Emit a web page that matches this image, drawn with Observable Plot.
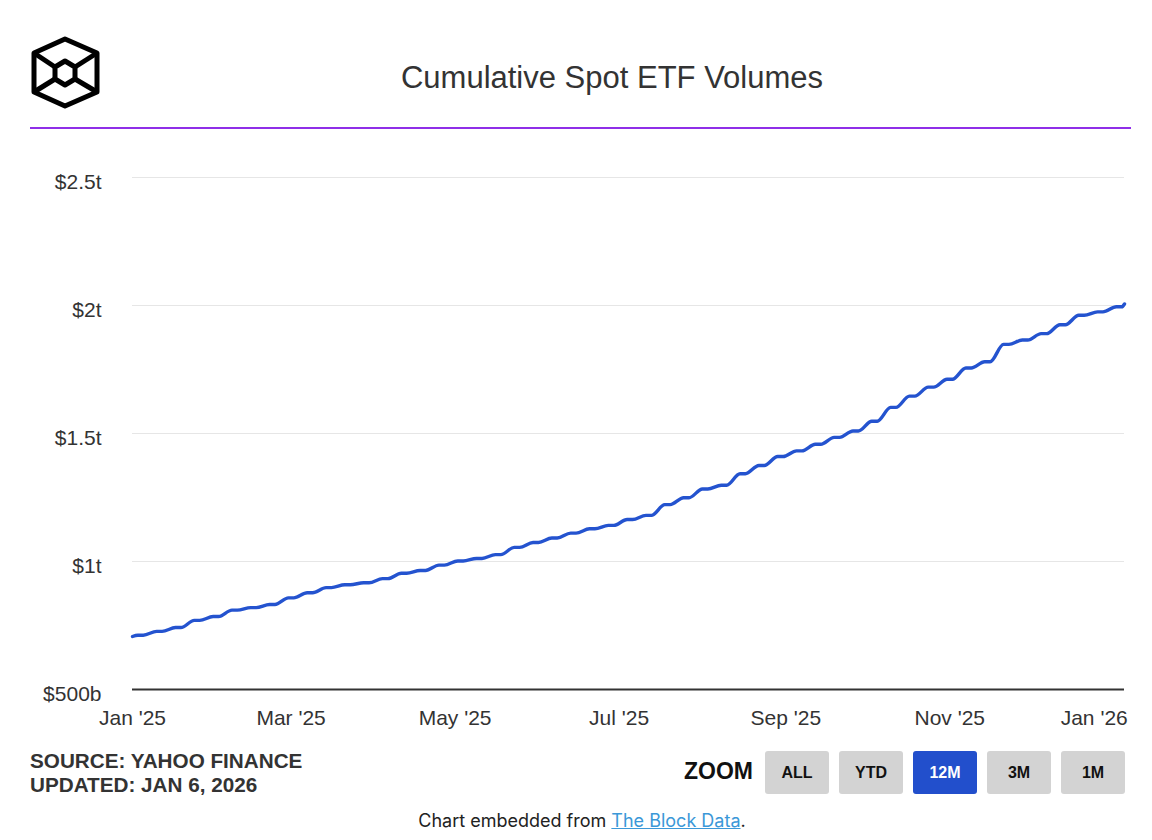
<!DOCTYPE html>
<html>
<head>
<meta charset="utf-8">
<script src="https://cdn.jsdelivr.net/npm/d3@7"></script>
<script src="https://cdn.jsdelivr.net/npm/@observablehq/plot@0.6"></script>
<style>
  html, body { margin: 0; padding: 0; background: #fff; }
  body { width: 1152px; height: 840px; position: relative; overflow: hidden; font-family: "Liberation Sans", Arial, Helvetica, sans-serif; }
  #logo { position: absolute; left: 28px; top: 34px; }
  #title { position: absolute; left: 0; width: 1224px; top: 60px; text-align: center; font-size: 31px; color: #333; }
  #rule { position: absolute; left: 30px; width: 1101px; top: 127px; height: 2px; background: #8f2fe8; }
  #chart { position: absolute; left: 0; top: 150px; }
  #source { position: absolute; left: 30px; top: 749px; font-weight: bold; font-size: 20.7px; line-height: 24px; color: #333; }
  #zoomlabel { position: absolute; left: 684px; top: 758px; font-weight: bold; font-size: 23px; color: #111; }
  .btn { position: absolute; top: 751px; width: 64px; height: 43px; border-radius: 3px; background: #d3d3d3; color: #111; font-weight: bold; font-size: 16px; display: flex; align-items: center; justify-content: center; }
  .btn.active { background: #224fcc; color: #fff; }
  #footer { position: absolute; left: 0; width: 1164px; top: 810px; text-align: center; font-family: Inter, "Open Sans", sans-serif; font-size: 18px; color: #222; }
  #footer a { color: #3b98d8; text-decoration: underline; }
</style>
</head>
<body>
<svg id="logo" width="76" height="80" viewBox="28 34 76 80">
  <g fill="none" stroke="#000" stroke-width="5" stroke-linejoin="round">
    <polygon points="65,39 97,53 97,92 65,106 34,92 34,53"/>
    <polygon points="65,61 75,67 75,79 65,85 55,79 55,67"/>
    <line x1="34" y1="53" x2="55" y2="67"/>
    <line x1="97" y1="53" x2="75" y2="67"/>
    <line x1="34" y1="92" x2="55" y2="79"/>
    <line x1="97" y1="92" x2="75" y2="79"/>
  </g>
</svg>
<div id="title">Cumulative Spot ETF Volumes</div>
<div id="rule"></div>
<div id="chart"></div>
<div id="source">SOURCE: YAHOO FINANCE<br>UPDATED: JAN 6, 2026</div>
<div id="zoomlabel">ZOOM</div>
<div class="btn" style="left:765px">ALL</div>
<div class="btn" style="left:839px">YTD</div>
<div class="btn active" style="left:913px">12M</div>
<div class="btn" style="left:987px">3M</div>
<div class="btn" style="left:1061px">1M</div>
<div id="footer">Chart embedded from <a>The Block Data</a>.</div>
<script>
// Fridays and the following Sundays (weekends add no volume)
const dates = [
  "2025-01-01",
  "2025-01-03","2025-01-05", "2025-01-10","2025-01-12", "2025-01-17","2025-01-19",
  "2025-01-24","2025-01-26", "2025-01-31","2025-02-02", "2025-02-07","2025-02-09",
  "2025-02-14","2025-02-16", "2025-02-21","2025-02-23", "2025-02-28","2025-03-02",
  "2025-03-07","2025-03-09", "2025-03-14","2025-03-16", "2025-03-21","2025-03-23",
  "2025-03-28","2025-03-30", "2025-04-04","2025-04-06", "2025-04-11","2025-04-13",
  "2025-04-18","2025-04-20", "2025-04-25","2025-04-27", "2025-05-02","2025-05-04",
  "2025-05-09","2025-05-11", "2025-05-16","2025-05-18", "2025-05-23","2025-05-25",
  "2025-05-30","2025-06-01", "2025-06-06","2025-06-08", "2025-06-13","2025-06-15",
  "2025-06-20","2025-06-22", "2025-06-27","2025-06-29", "2025-07-04","2025-07-06",
  "2025-07-11","2025-07-13", "2025-07-18","2025-07-20", "2025-07-25","2025-07-27",
  "2025-08-01","2025-08-03", "2025-08-08","2025-08-10", "2025-08-15","2025-08-17",
  "2025-08-22","2025-08-24", "2025-08-29","2025-08-31", "2025-09-05","2025-09-07",
  "2025-09-12","2025-09-14", "2025-09-19","2025-09-21", "2025-09-26","2025-09-28",
  "2025-10-03","2025-10-05", "2025-10-10","2025-10-12", "2025-10-17","2025-10-19",
  "2025-10-24","2025-10-26", "2025-10-31","2025-11-02", "2025-11-07","2025-11-09",
  "2025-11-14","2025-11-16", "2025-11-21","2025-11-23", "2025-11-28","2025-11-30",
  "2025-12-05","2025-12-07", "2025-12-12","2025-12-14", "2025-12-19","2025-12-21",
  "2025-12-26","2025-12-28", "2026-01-02","2026-01-04",
  "2026-01-05"
];
// cumulative volume, trillions USD
const volumes = [
  0.707,
  0.712,0.712, 0.727,0.727, 0.742,0.742,
  0.770,0.770, 0.785,0.785, 0.810,0.810,
  0.820,0.820, 0.832,0.832, 0.858,0.858,
  0.878,0.878, 0.898,0.898, 0.909,0.909,
  0.917,0.917, 0.933,0.933, 0.954,0.954,
  0.965,0.965, 0.986,0.986, 1.002,1.002,
  1.012,1.012, 1.027,1.027, 1.055,1.055,
  1.074,1.074, 1.092,1.092, 1.111,1.111,
  1.128,1.128, 1.141,1.141, 1.164,1.164,
  1.180,1.180, 1.222,1.222, 1.249,1.249,
  1.283,1.283, 1.298,1.298, 1.343,1.343,
  1.375,1.375, 1.410,1.410, 1.432,1.432,
  1.458,1.458, 1.485,1.485, 1.510,1.510,
  1.548,1.548, 1.602,1.602, 1.646,1.646,
  1.681,1.681, 1.712,1.712, 1.756,1.756,
  1.780,1.780, 1.848,1.848, 1.865,1.865,
  1.890,1.890, 1.925,1.925, 1.962,1.962,
  1.975,1.975, 1.995,1.995,
  2.006
];
const yTicks = [0.5, 1, 1.5, 2, 2.5];
const yTickLabels = ["$500b", "$1t", "$1.5t", "$2t", "$2.5t"];
const xTicks = ["2025-01-01","2025-03-01","2025-05-01","2025-07-01","2025-09-01","2025-11-01","2026-01-01"];
const xDomain = ["2025-01-01", "2026-01-05"];

const data = dates.map((d, i) => ({date: new Date(d), value: volumes[i]}));
const xt = xTicks.map(d => new Date(d));
const fmtX = d3.utcFormat("%b '%y");
const fmtY = v => yTickLabels[yTicks.indexOf(v)];

const chart = Plot.plot({
  width: 1152,
  height: 600,
  marginLeft: 132,
  marginRight: 28,
  marginTop: 27,
  marginBottom: 61,
  x: {type: "utc", domain: xDomain.map(d => new Date(d))},
  y: {domain: [0.5, 2.5]},
  style: {fontFamily: "'Liberation Sans', Arial, Helvetica, sans-serif", fontSize: "21px", color: "#333", background: "transparent"},
  marks: [
    Plot.ruleY(yTicks.slice(1), {stroke: "#e6e6e6", strokeWidth: 1}),
    Plot.axisY({ticks: yTicks, tickFormat: fmtY, tickSize: 0, tickPadding: 31, label: null, fontSize: 21, dy: 5}),
    Plot.axisX({ticks: xt.slice(0, -1), tickFormat: fmtX, tickSize: 0, tickPadding: 20, label: null, fontSize: 21, dy: 1}),
    Plot.axisX({ticks: xt.slice(-1), tickFormat: fmtX, tickSize: 0, tickPadding: 20, label: null, fontSize: 21, dy: 1, textAnchor: "end", dx: 14}),
    Plot.line(data, {x: "date", y: "value", stroke: "#2453cf", strokeWidth: 3.4, curve: "monotone-x"}),
    Plot.ruleY([0.5], {stroke: "#333", strokeWidth: 2})
  ]
});
document.getElementById("chart").appendChild(chart);
</script>
</body>
</html>
